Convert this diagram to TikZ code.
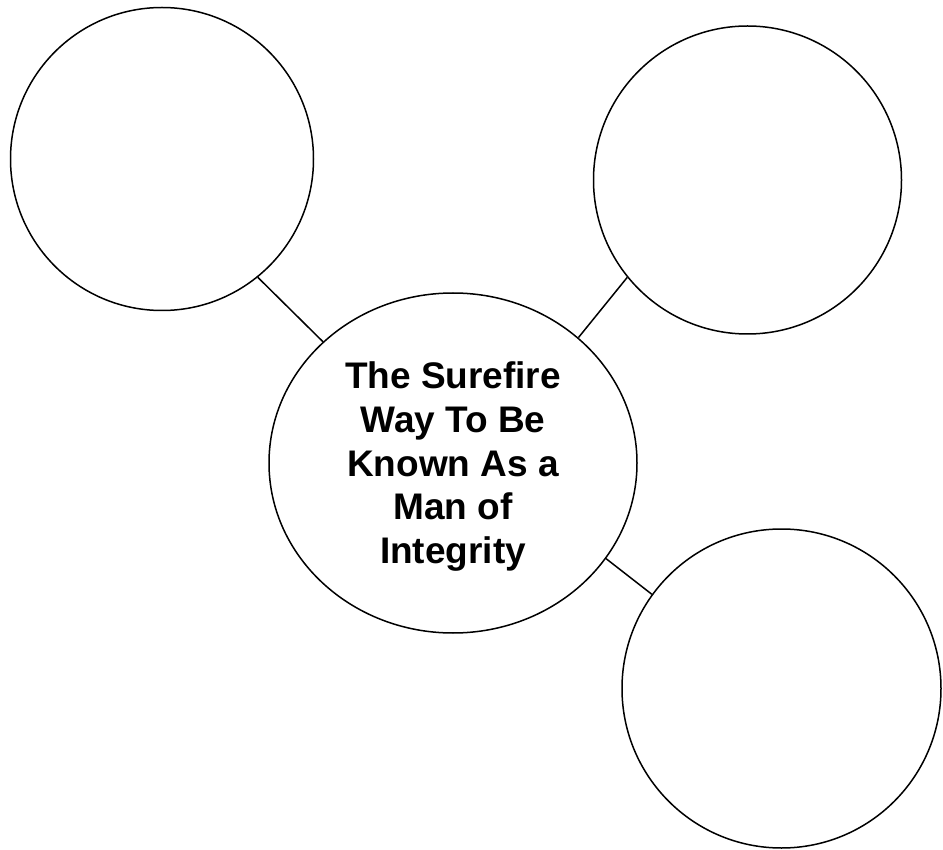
\documentclass[tikz,border=0pt]{standalone}
\usepackage{fontspec}
\setmainfont{Liberation Sans}
\usetikzlibrary{shapes.geometric}
\begin{document}
\begin{tikzpicture}[x=1pt,y=-1pt,
  bubble/.style={circle,draw=black,line width=1.5pt,inner sep=0pt,fill=white},
  hub/.style={ellipse,draw=black,line width=1.5pt,inner sep=0pt,minimum width=368pt,minimum height=340pt},
  link/.style={draw=black,line width=1.5pt},
  titletext/.style={align=center,inner sep=0pt,font=\bfseries\fontsize{37}{43.75}\selectfont}]
\useasboundingbox (0,0) rectangle (943,850);
\node[bubble,minimum size=303pt] (tl) at (162,159) {};
\node[bubble,minimum size=308pt] (tr) at (747.5,180) {};
\node[bubble,minimum size=319pt] (br) at (781.5,688.5) {};
\node[hub] (c) at (453,463) {};
\node[titletext,anchor=north] (title) at (453,361.5) {The Surefire\\Way To Be\\Known As a\\Man of\\Integrity};
\draw[link] (tl.-51.1) -- (c.137.3);
\draw[link] (tr.219.4) -- (c.45.4);
\draw[link] (c.-32.5) -- (br.144.2);
\end{tikzpicture}
\end{document}
